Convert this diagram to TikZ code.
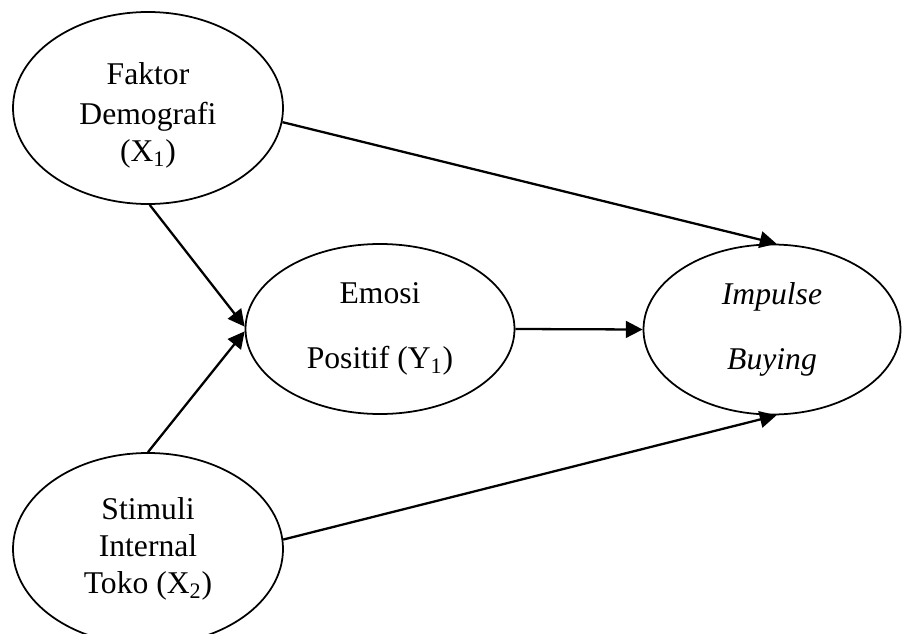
\documentclass[tikz,border=0pt]{standalone}
\usepackage{fontspec}
\setmainfont{Liberation Serif}
\usetikzlibrary{shapes.geometric,arrows.meta}

\begin{document}
\begin{tikzpicture}[
    var/.style={draw, ellipse, line width=1pt, inner sep=0pt, align=center,
                font=\fontsize{18}{24}\selectfont},
    path/.style={-{Triangle[length=9.5pt,width=9.5pt]}, line width=1.3pt}]
    \useasboundingbox (0,0) rectangle (18.04,12.66);

    % the variables
    \node[var, minimum width=5.4cm, minimum height=3.84cm] (fd) at (2.96,10.5)
        {\\[-3pt]Faktor\\[-1pt]Demografi\\[-3pt](X\textsubscript{1})};
    \node[var, minimum width=5.38cm, minimum height=3.4cm] (ep) at (7.6,6.08)
        {Emosi\\[13pt]Positif (Y\textsubscript{1})};
    \node[var, minimum width=5.14cm, minimum height=3.4cm] (ib) at (15.44,6.07)
        {\itshape Impulse\\[13pt]\itshape Buying};
    \node[var, minimum width=5.4cm, minimum height=3.84cm,
          font=\fontsize{18}{21}\selectfont] (sit) at (2.96,1.68)
        {Stimuli\\Internal\\Toko (X\textsubscript{2})};

    % draw the arrows
    \draw[path] (fd.-6) -- (ib.87);
    \draw[path] (fd.-89) -- (ep.179);
    \draw[path] (sit.90) -- (ep.-179);
    \draw[path] (ep.east) -- (ib.west);
    \draw[path] (sit.4) -- (ib.-87);
\end{tikzpicture}
\end{document}
